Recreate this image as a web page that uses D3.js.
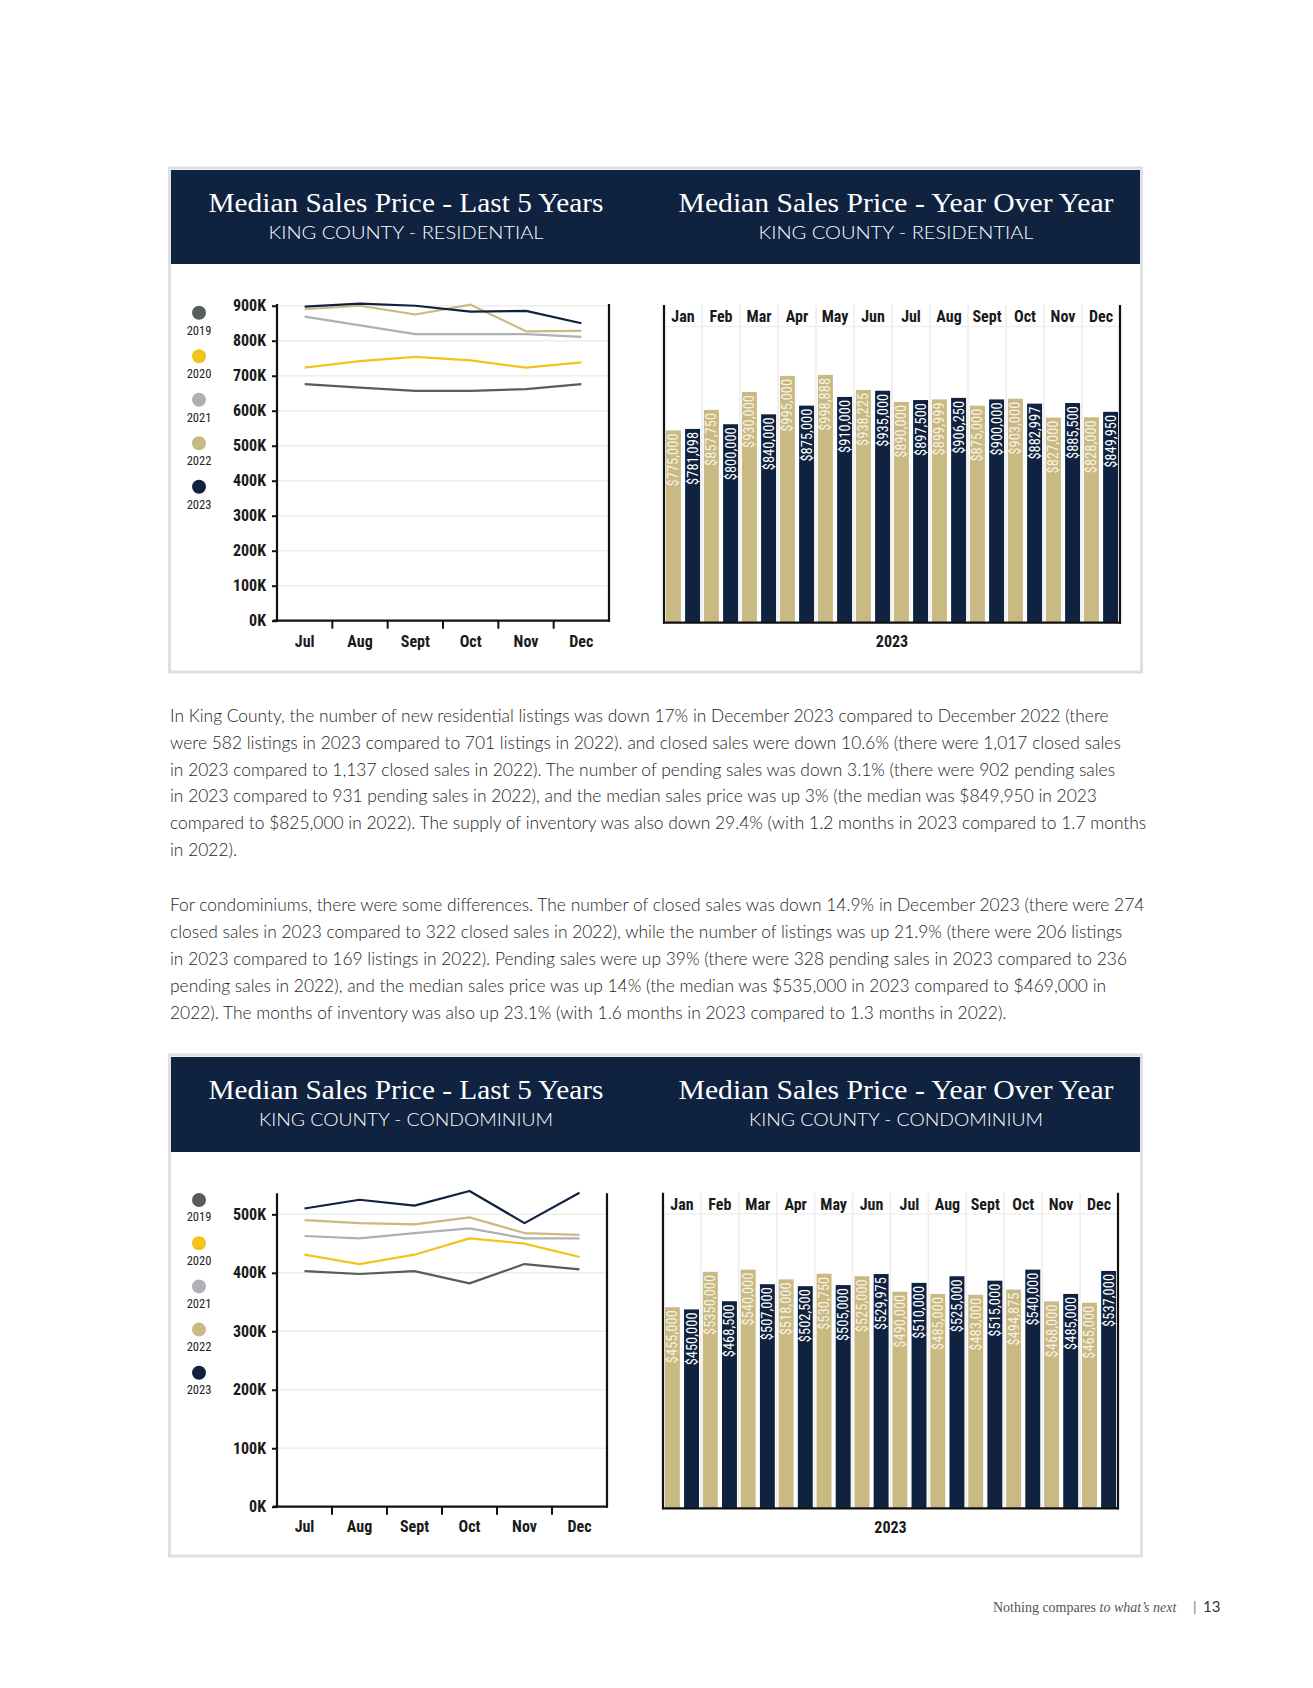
<!DOCTYPE html>
<html><head><meta charset="utf-8">
<script src="https://cdn.jsdelivr.net/npm/d3@7"></script>
<style>
html,body{margin:0;padding:0;background:#fff;}
svg{display:block;}
</style></head><body>
<svg id="page" width="1313" height="1688"></svg>
<script>
// ---------- DATA ----------
const years = ["2019", "2020", "2021", "2022", "2023"];
const halfMonths = ["Jul", "Aug", "Sept", "Oct", "Nov", "Dec"];
const allMonths = ["Jan", "Feb", "Mar", "Apr", "May", "Jun", "Jul", "Aug", "Sept", "Oct", "Nov", "Dec"];
const barYears = ["2022", "2023"];

const res2019 = [676000, 666000, 657000, 657000, 662000, 676000];
const res2020 = [723000, 742000, 754000, 744000, 723000, 738000];
const res2021 = [869000, 844000, 819000, 819000, 819000, 811000];
const res2022 = [890000, 899999, 875000, 903000, 827000, 828000];
const res2023 = [897500, 906250, 900000, 882997, 885500, 849950];

const condo2019 = [403000, 398000, 403000, 382000, 415000, 406000];
const condo2020 = [431000, 415000, 431000, 459000, 450000, 427000];
const condo2021 = [463000, 459000, 468000, 476000, 459000, 459000];
const condo2022 = [490000, 485000, 483000, 494875, 468000, 465000];
const condo2023 = [510000, 525000, 515000, 540000, 485000, 537000];

const resLineTicks = [0, 100000, 200000, 300000, 400000, 500000, 600000, 700000, 800000, 900000];
const condoLineTicks = [0, 100000, 200000, 300000, 400000, 500000];

const resBar2022 = [775000, 857750, 930000, 995000, 998888, 938225, 890000, 899999, 875000, 903000, 827000, 828000];
const resBar2023 = [781098, 800000, 840000, 875000, 910000, 935000, 897500, 906250, 900000, 882997, 885500, 849950];
const condoBar2022 = [455000, 535000, 540000, 518000, 530750, 525000, 490000, 485000, 483000, 494875, 468000, 465000];
const condoBar2023 = [450000, 468500, 507000, 502500, 505000, 529975, 510000, 525000, 515000, 540000, 485000, 537000];
// label texts as printed (Feb 2022 condo label is printed "$5350,000")
const condoBar2022Labels = ["$455,000", "$5350,000", "$540,000", "$518,000", "$530,750", "$525,000", "$490,000", "$485,000", "$483,000", "$494,875", "$468,000", "$465,000"];

const para1 = [
  "In King County, the number of new residential listings was down 17% in December 2023 compared to December 2022 (there",
  "were 582 listings in 2023 compared to 701 listings in 2022). and closed sales were down 10.6% (there were 1,017 closed sales",
  "in 2023 compared to 1,137 closed sales in 2022). The number of pending sales was down 3.1% (there were 902 pending sales",
  "in 2023 compared to 931 pending sales in 2022), and the median sales price was up 3% (the median was $849,950 in 2023",
  "compared to $825,000 in 2022). The supply of inventory was also down 29.4% (with 1.2 months in 2023 compared to 1.7 months",
  "in 2022)."
];
const para2 = [
  "For condominiums, there were some differences. The number of closed sales was down 14.9% in December 2023 (there were 274",
  "closed sales in 2023 compared to 322 closed sales in 2022), while the number of listings was up 21.9% (there were 206 listings",
  "in 2023 compared to 169 listings in 2022). Pending sales were up 39% (there were 328 pending sales in 2023 compared to 236",
  "pending sales in 2022), and the median sales price was up 14% (the median was $535,000 in 2023 compared to $469,000 in",
  "2022). The months of inventory was also up 23.1% (with 1.6 months in 2023 compared to 1.3 months in 2022)."
];

// ---------- STYLE ----------
const yearColors = ["#565d5b", "#f1c31b", "#aeb0b6", "#c9b983", "#10223f"];
const NAVY = "#0f2240";
const TAN = "#c9b983";
const COND = "'Liberation Sans Narrow','Roboto Condensed','DejaVu Sans Condensed','Arial Narrow',sans-serif";
const SERIF = "'Liberation Serif','DejaVu Serif',serif";
const SANS = "Lato,'Open Sans','Noto Sans',sans-serif";

const svg = d3.select("#page");
const fmt = d3.format("$,");

// ---------- PANELS ----------
function panel(top, bottom, headTop, headBot, subtitle, subLen) {
  svg.append("rect").attr("x", 169.5).attr("y", top).attr("width", 972).attr("height", bottom - top)
    .attr("fill", "#fff").attr("stroke", "#e0e0e2").attr("stroke-width", 3);
  svg.append("rect").attr("x", 171).attr("y", headTop).attr("width", 969).attr("height", headBot - headTop)
    .attr("fill", NAVY);
  const titles = [
    {t: "Median Sales Price - Last 5 Years", cx: 406, len: 395},
    {t: "Median Sales Price - Year Over Year", cx: 896, len: 435}
  ];
  titles.forEach(d => {
    svg.append("text").attr("x", d.cx).attr("y", headTop + 41.5).attr("text-anchor", "middle")
      .attr("font-family", SERIF).attr("font-size", 27.5).attr("fill", "#fff")
      .attr("textLength", d.len).attr("lengthAdjust", "spacingAndGlyphs").text(d.t);
    svg.append("text").attr("x", d.cx).attr("y", headTop + 69).attr("text-anchor", "middle")
      .attr("font-family", SANS).attr("font-weight", 300).attr("font-size", 17.5).attr("fill", "#fff")
      .attr("textLength", subLen).attr("lengthAdjust", "spacingAndGlyphs").text(subtitle);
  });
}

// ---------- LINE CHART ----------
function lineChart(o) {
  const g = svg.append("g");
  const x = d3.scaleBand().domain(halfMonths).range([o.x0, o.x1]);
  const y = d3.scaleLinear().domain([0, o.yTop]).range([o.yBase, o.yTopPx]);
  const bw = x.bandwidth();

  g.selectAll("line.grid").data(o.ticks.slice(1)).join("line").attr("class", "grid")
    .attr("x1", o.x0).attr("x2", o.x1).attr("y1", d => y(d)).attr("y2", d => y(d))
    .attr("stroke", "#ededed").attr("stroke-width", 1.5);

  const ya = g.append("g").attr("transform", `translate(${o.x0},0)`)
    .call(d3.axisLeft(y).tickValues(o.ticks).tickSize(5).tickPadding(6).tickFormat(d => (d / 1000) + "K"));
  ya.select(".domain").remove();
  ya.selectAll(".tick line").attr("stroke", "#111").attr("stroke-width", 2);
  ya.selectAll(".tick text").attr("font-family", COND).attr("font-size", 16).attr("font-weight", 700).attr("fill", "#1a1a1a");

  // frame lines
  g.append("line").attr("x1", o.x0).attr("x2", o.x0).attr("y1", o.yTopPx).attr("y2", o.yBase + 1).attr("stroke", "#111").attr("stroke-width", 2.2);
  g.append("line").attr("x1", o.x1).attr("x2", o.x1).attr("y1", o.yTopPx).attr("y2", o.yBase + 1).attr("stroke", "#111").attr("stroke-width", 2.2);
  g.append("line").attr("x1", o.x0 - 4).attr("x2", o.x1 + 1).attr("y1", o.yBase).attr("y2", o.yBase).attr("stroke", "#111").attr("stroke-width", 2.2);

  g.selectAll("line.xt").data(halfMonths.slice(1)).join("line").attr("class", "xt")
    .attr("x1", d => x(d)).attr("x2", d => x(d)).attr("y1", o.yBase).attr("y2", o.yBase + 8)
    .attr("stroke", "#111").attr("stroke-width", 2);
  g.selectAll("text.xl").data(halfMonths).join("text").attr("class", "xl")
    .attr("x", d => x(d) + bw / 2).attr("y", o.labelY + 5.5).attr("text-anchor", "middle")
    .attr("font-family", COND).attr("font-size", 16).attr("font-weight", 700).attr("fill", "#1a1a1a").text(d => d);

  const line = d3.line().x((d, i) => x(halfMonths[i]) + bw / 2).y(d => y(d));
  o.series.forEach((s, i) => {
    g.append("path").datum(s).attr("d", line).attr("fill", "none")
      .attr("stroke", yearColors[i]).attr("stroke-width", 2.2).attr("stroke-linejoin", "round");
  });

  years.forEach((yr, i) => {
    const cy = o.legY0 + i * o.legStep;
    g.append("circle").attr("cx", 199).attr("cy", cy).attr("r", 7).attr("fill", yearColors[i]);
    g.append("text").attr("x", 199).attr("y", cy + o.legLab + 4).attr("text-anchor", "middle")
      .attr("font-family", COND).attr("font-size", 12.5).attr("fill", "#222").text(yr);
  });
}

// ---------- BAR CHART ----------
function barChart(o) {
  const g = svg.append("g");
  const x = d3.scaleBand().domain(allMonths).range([o.x0, o.x1]);
  const xs = d3.scaleBand().domain(barYears).range([0, x.bandwidth()]).paddingInner(0.22).paddingOuter(0.1);
  const y = d3.scaleLinear().domain([0, o.yMax]).range([o.yBase, o.yMaxPx]);

  g.selectAll("line.vg").data(allMonths.slice(1)).join("line").attr("class", "vg")
    .attr("x1", d => x(d)).attr("x2", d => x(d)).attr("y1", o.topPx).attr("y2", o.yBase)
    .attr("stroke", "#ededed").attr("stroke-width", 1.5);
  g.append("line").attr("x1", o.x0).attr("x2", o.x1).attr("y1", o.labelY + 10).attr("y2", o.labelY + 10)
    .attr("stroke", "#f0f0f0").attr("stroke-width", 1.5);

  const data = [];
  allMonths.forEach((m, i) => {
    data.push({m, yr: "2022", v: o.s2022[i], label: o.l2022[i]});
    data.push({m, yr: "2023", v: o.s2023[i], label: o.l2023[i]});
  });
  g.selectAll("rect.bar").data(data).join("rect").attr("class", "bar")
    .attr("x", d => x(d.m) + xs(d.yr)).attr("width", xs.bandwidth())
    .attr("y", d => y(d.v)).attr("height", d => o.yBase - y(d.v))
    .attr("fill", d => d.yr === "2022" ? TAN : NAVY);
  g.selectAll("text.bl").data(data).join("text").attr("class", "bl")
    .attr("transform", d => `translate(${x(d.m) + xs(d.yr) + xs.bandwidth() / 2 + 0.5},${y(d.v) + 3}) rotate(-90)`)
    .attr("text-anchor", "end").attr("dominant-baseline", "central")
    .attr("font-family", COND).attr("font-size", 14.5)
    .attr("fill", d => d.yr === "2022" ? "#f7f2e4" : "#ffffff").text(d => d.label);

  g.selectAll("text.ml").data(allMonths).join("text").attr("class", "ml")
    .attr("x", d => x(d) + x.bandwidth() / 2).attr("y", o.labelY + 5.5).attr("text-anchor", "middle")
    .attr("font-family", COND).attr("font-size", 16).attr("font-weight", 700).attr("fill", "#1a1a1a").text(d => d);

  g.append("line").attr("x1", o.x0).attr("x2", o.x0).attr("y1", o.topPx).attr("y2", o.yBase + 1).attr("stroke", "#111").attr("stroke-width", 2.2);
  g.append("line").attr("x1", o.x1).attr("x2", o.x1).attr("y1", o.topPx).attr("y2", o.yBase + 1).attr("stroke", "#111").attr("stroke-width", 2.2);
  g.append("line").attr("x1", o.x0 - 1).attr("x2", o.x1 + 1).attr("y1", o.yBase).attr("y2", o.yBase).attr("stroke", "#111").attr("stroke-width", 2.2);

  g.append("text").attr("x", (o.x0 + o.x1) / 2).attr("y", o.yearY + 5.5).attr("text-anchor", "middle")
    .attr("font-family", COND).attr("font-size", 16).attr("font-weight", 700).attr("fill", "#1a1a1a").text("2023");
}

// ---------- DRAW ----------
panel(168, 672, 170, 264, "KING COUNTY - RESIDENTIAL", 275);
lineChart({
  x0: 277, x1: 609, yBase: 620.7, yTopPx: 304, yTop: 905000, ticks: resLineTicks,
  series: [res2019, res2020, res2021, res2022, res2023], labelY: 641,
  legY0: 312.7, legStep: 43.5, legLab: 18
});
barChart({
  x0: 664, x1: 1120, yBase: 622.7, yMaxPx: 325, yMax: 1200000, topPx: 305, labelY: 316.5, yearY: 641,
  s2022: resBar2022, s2023: resBar2023, l2022: resBar2022.map(fmt), l2023: resBar2023.map(fmt)
});

panel(1055, 1556, 1057, 1152, "KING COUNTY - CONDOMINIUM", 294);
lineChart({
  x0: 277, x1: 607, yBase: 1506.7, yTopPx: 1193.3, yTop: 536000, ticks: condoLineTicks,
  series: [condo2019, condo2020, condo2021, condo2022, condo2023], labelY: 1526.7,
  legY0: 1200, legStep: 43.2, legLab: 17.3
});
barChart({
  x0: 663, x1: 1118, yBase: 1508.3, yMaxPx: 1198.9, yMax: 700000, topPx: 1192.7, labelY: 1204, yearY: 1527,
  s2022: condoBar2022, s2023: condoBar2023, l2022: condoBar2022Labels, l2023: condoBar2023.map(fmt)
});

// ---------- BODY TEXT ----------
const body = svg.append("g").attr("font-family", SANS).attr("font-weight", 300).attr("fill", "#1e1e1e");
const p1Y = [716.6, 743.5, 770.5, 797.4, 824.4, 851.3];
const p2Y = [906.3, 933.2, 960.1, 987.1, 1014];
const t1 = body.selectAll("text.p1").data(para1).join("text").attr("class", "p1")
  .attr("x", 170).attr("y", (d, i) => p1Y[i] + 5).attr("font-size", 16).text(d => d);
const t2 = body.selectAll("text.p2").data(para2).join("text").attr("class", "p2")
  .attr("x", 170).attr("y", (d, i) => p2Y[i] + 5).attr("font-size", 16).text(d => d);
const longest = t1.nodes()[4].getComputedTextLength();
const fs = 16 * 977 / longest;
body.selectAll("text").attr("font-size", fs);

// ---------- FOOTER ----------
const foot = svg.append("text").attr("x", 993).attr("y", 1612).attr("font-family", SERIF)
  .attr("font-size", 14).attr("fill", "#555");
foot.append("tspan").text("Nothing compares ");
foot.append("tspan").attr("font-style", "italic").text("to what\u2019s next");
svg.append("text").attr("x", 1193).attr("y", 1612).attr("font-family", SANS).attr("font-size", 14)
  .attr("fill", "#777").text("|");
svg.append("text").attr("x", 1203).attr("y", 1612).attr("font-family", SANS).attr("font-size", 15)
  .attr("fill", "#333").text("13");
</script>
</body></html>
